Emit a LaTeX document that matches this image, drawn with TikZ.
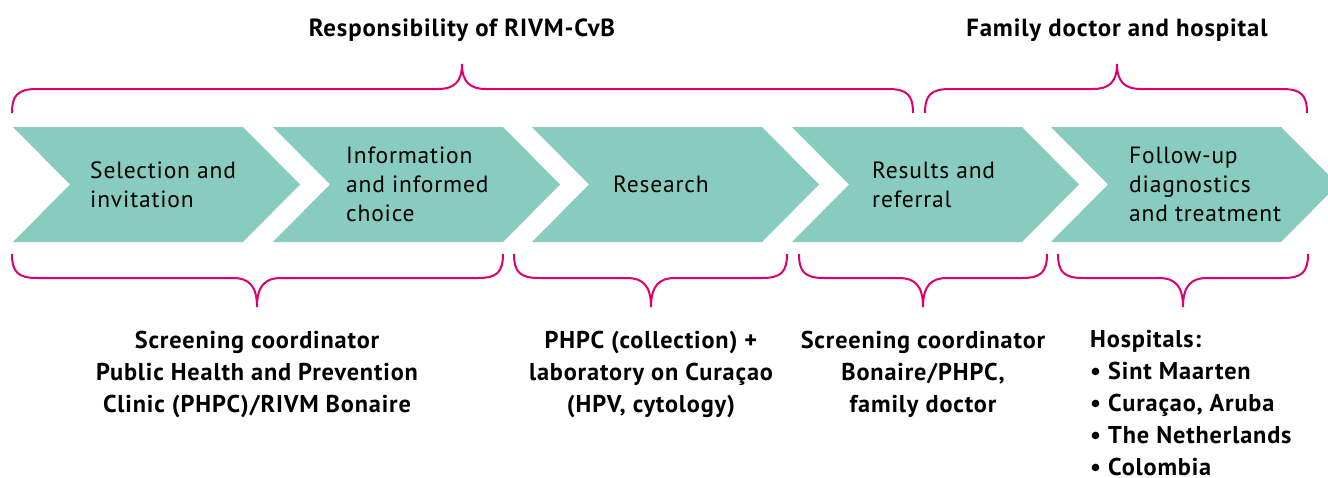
\documentclass[tikz,border=0pt]{standalone}
\usepackage{fontspec}
\setmainfont{PT Sans}[LetterSpace=3.5]
\definecolor{chev}{RGB}{136,203,191}
\definecolor{pinkline}{RGB}{222,0,110}
\newcommand{\chevshape}[1]{%
  \fill[chev] (#1,127) -- ({#1+230},127) -- ({#1+287},184.5) -- ({#1+230},242) -- (#1,242) -- ({#1+57},184.5) -- cycle;}
\newcommand{\bracetop}[3]{%
  \draw[bracestyle] (#1,113) .. controls (#1,95) and ({#1+6},89) .. ({#1+25},89) -- ({#2-24},89)
    .. controls ({#2-8},89) and (#2,82) .. (#2,64)
    .. controls (#2,82) and ({#2+8},89) .. ({#2+24},89) -- ({#3-25},89)
    .. controls ({#3-6},89) and (#3,95) .. (#3,113);}
\newcommand{\bracebot}[3]{%
  \draw[bracestyle] (#1,254) .. controls (#1,272) and ({#1+6},278) .. ({#1+25},278) -- ({#2-24},278)
    .. controls ({#2-8},278) and (#2,286) .. (#2,307)
    .. controls (#2,286) and ({#2+8},278) .. ({#2+24},278) -- ({#3-25},278)
    .. controls ({#3-6},278) and (#3,272) .. (#3,254);}
\begin{document}
\begin{tikzpicture}[x=1pt,y=-1pt,
  bracestyle/.style={draw=pinkline,line width=2pt},
  steptext/.style={anchor=west,align=left,inner sep=0pt,font=\fontsize{23.5}{29}\selectfont},
  owner/.style={anchor=north,align=center,inner sep=0pt,font=\bfseries\fontsize{24.3}{32}\selectfont},
  head/.style={inner sep=0pt,font=\bfseries\fontsize{24.8}{26}\selectfont}]
\useasboundingbox (0,0) rectangle (1328,477);
\clip (0,0) rectangle (1328,477);
% chevrons
\chevshape{13}
\chevshape{273}
\chevshape{532}
\chevshape{792}
\chevshape{1051}
\node[steptext] (s1) at (90,184.5) {Selection and\\invitation};
\node[steptext] (s2) at (346,184.5) {Information\\and informed\\choice};
\node[steptext] (s3) at (613,184.5) {Research};
\node[steptext] (s4) at (872,184.5) {Results and\\referral};
\node[steptext] (s5) at (1129,184.5) {Follow-up\\diagnostics\\and treatment};
% headers
\node[head] (h1) at (462,30) {Responsibility of RIVM-CvB};
\node[head] (h2) at (1117,30) {Family doctor and hospital};
% braces
\bracetop{12}{462}{913}
\bracetop{925}{1117}{1307}
\bracebot{12}{257}{503}
\bracebot{514}{651}{787}
\bracebot{799}{923}{1047}
\bracebot{1058}{1183}{1308}
% bottom texts
\node[owner] (o1) at (257,330.5) {Screening coordinator\\Public Health and Prevention\\Clinic (PHPC)/RIVM Bonaire};
\node[owner] (o2) at (651,330.5) {PHPC (collection) +\\laboratory on Curaçao\\(HPV, cytology)};
\node[owner] (o3) at (923,330.5) {Screening coordinator\\Bonaire/PHPC,\\family doctor};
\node[owner,anchor=north west,align=left] (o4) at (1090,330.5) {Hospitals:\\\textbullet{} Sint Maarten\\\textbullet{} Curaçao, Aruba\\\textbullet{} The Netherlands\\\textbullet{} Colombia};
\end{tikzpicture}
\end{document}
